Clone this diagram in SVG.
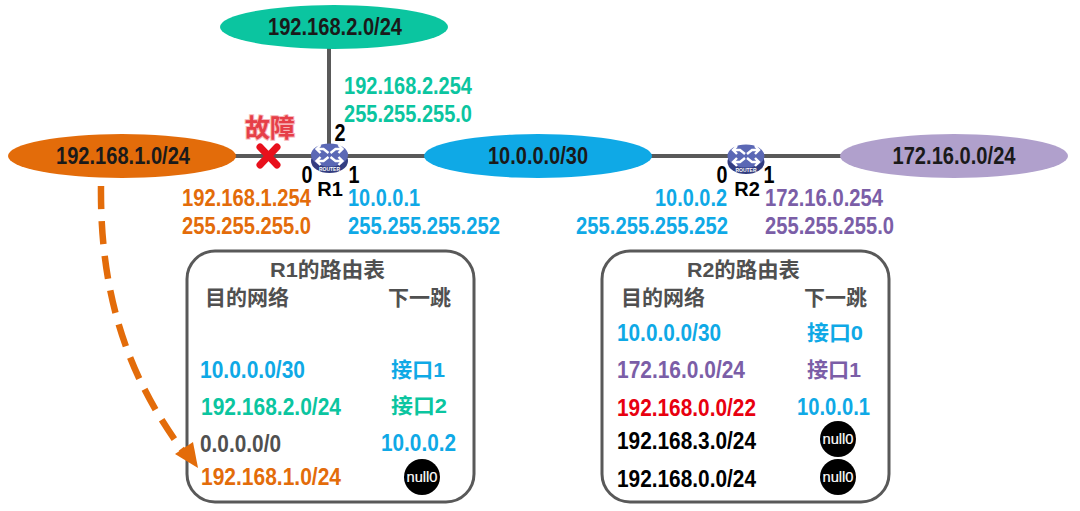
<svg xmlns="http://www.w3.org/2000/svg" width="1080" height="511" viewBox="0 0 1080 511">
<style>
text{font-family:"Liberation Sans","Noto Sans CJK SC",sans-serif;font-size:23px;font-weight:bold}
.o{fill:#e36c0a}.g{fill:#0bc5a0}.b{fill:#0fa9e6}.p{fill:#7b5ea7}
.d{fill:#505050}.k{fill:#000}.r{fill:#e8000f}
.net{fill:#1a1a1a}
.m{text-anchor:middle}.box{fill:#fff;stroke:#595959;stroke-width:3}
.cjk{font-size:21px}
.port{font-size:24px;fill:#000;text-anchor:middle}
.tag{font-size:20px;fill:#000;text-anchor:middle}
.n0{fill:#fff;font-size:15px;font-weight:normal;text-anchor:middle;stroke:#fff;stroke-width:.2px}
</style>
<defs>
<g id="router">
<ellipse cx="0" cy="4" rx="18.5" ry="12" fill="#333d80"/>
<ellipse cx="0" cy="-2" rx="18.5" ry="11.5" fill="#5b68b5"/>
<path d="M-13-8h7l5 4M-9-12l-4 4 4 4M13-8H6L1-4M9-12l4 4-4 4M-13 4h7l5-4M-9 0l-4 4 4 4M13 4H6L1 0M9 0l4 4-4 4" fill="none" stroke="#fff" stroke-width="2.4"/>
<text x="0" y="14" text-anchor="middle" style="font-size:5px;fill:#fff">ROUTER</text>
</g>
</defs>
<rect width="1080" height="511" fill="#fff"/>
<g id="links" fill="none">
<path d="M329 40V156M230 156H430M650 156H850" stroke="#595959" stroke-width="4"/>
</g>
<g id="net-192-168-2"><ellipse cx="334" cy="27" rx="114" ry="22" fill="#0bc5a0"/><text class="net m" x="335" y="35" textLength="134" lengthAdjust="spacingAndGlyphs">192.168.2.0/24</text></g>
<g id="net-192-168-1"><ellipse cx="122" cy="156" rx="114" ry="22" fill="#e36c0a"/><text class="net m" x="123" y="164" textLength="134" lengthAdjust="spacingAndGlyphs">192.168.1.0/24</text></g>
<g id="net-10-0-0"><ellipse cx="538" cy="156" rx="114" ry="22" fill="#0fa9e6"/><text class="net m" x="538" y="164" textLength="100" lengthAdjust="spacingAndGlyphs">10.0.0.0/30</text></g>
<g id="net-172-16"><ellipse cx="954" cy="156" rx="114" ry="22" fill="#b0a0cc"/><text class="net m" x="954" y="164" textLength="123" lengthAdjust="spacingAndGlyphs">172.16.0.0/24</text></g>
<g id="fault">
<path d="M260 147L277 165M277 147L260 165" stroke="#e8101c" stroke-width="7" stroke-linecap="round"/>
<text x="270" y="137" text-anchor="middle" style="font-size:25px;fill:#e63f48;stroke:#f7b5b8;stroke-width:2px;paint-order:stroke">故障</text>
</g>
<g id="R1">
<use href="#router" x="329.5" y="157"/>
<text class="port" x="307" y="183" textLength="11" lengthAdjust="spacingAndGlyphs">0</text><text class="port" x="354" y="183" textLength="11" lengthAdjust="spacingAndGlyphs">1</text><text class="port" x="340" y="141" textLength="11" lengthAdjust="spacingAndGlyphs">2</text>
<text class="tag" x="330" y="196">R1</text>
</g>
<g id="R2">
<use href="#router" x="746" y="158"/>
<text class="port" x="722" y="183" textLength="11" lengthAdjust="spacingAndGlyphs">0</text><text class="port" x="769" y="183" textLength="11" lengthAdjust="spacingAndGlyphs">1</text>
<text class="tag" x="747" y="196">R2</text>
</g>
<g id="addresses">
<text class="g" x="344" y="94" textLength="128" lengthAdjust="spacingAndGlyphs">192.168.2.254</text><text class="g" x="344" y="122" textLength="128" lengthAdjust="spacingAndGlyphs">255.255.255.0</text>
<text class="o" x="182" y="206" textLength="129" lengthAdjust="spacingAndGlyphs">192.168.1.254</text><text class="o" x="182" y="234" textLength="129" lengthAdjust="spacingAndGlyphs">255.255.255.0</text>
<text class="b" x="348" y="206" textLength="72" lengthAdjust="spacingAndGlyphs">10.0.0.1</text><text class="b" x="348" y="234" textLength="152" lengthAdjust="spacingAndGlyphs">255.255.255.252</text>
<text class="b" x="655" y="206" textLength="72" lengthAdjust="spacingAndGlyphs">10.0.0.2</text><text class="b" x="576" y="234" textLength="152" lengthAdjust="spacingAndGlyphs">255.255.255.252</text>
<text class="p" x="765" y="206" textLength="118" lengthAdjust="spacingAndGlyphs">172.16.0.254</text><text class="p" x="765" y="234" textLength="129" lengthAdjust="spacingAndGlyphs">255.255.255.0</text>
</g>
<g id="table-R1">
<rect class="box" x="187" y="251" width="287" height="251" rx="28"/>
<text class="d cjk" x="270" y="277" textLength="115" lengthAdjust="spacingAndGlyphs">R1的路由表</text>
<text class="d cjk" x="205" y="305">目的网络</text><text class="d cjk" x="388" y="305">下一跳</text>
<text class="b" x="200" y="378" textLength="105" lengthAdjust="spacingAndGlyphs">10.0.0.0/30</text><text class="b cjk" x="391" y="377" textLength="54" lengthAdjust="spacingAndGlyphs">接口1</text>
<text class="g" x="201" y="415" textLength="140" lengthAdjust="spacingAndGlyphs">192.168.2.0/24</text><text class="g cjk" x="391" y="413" textLength="56" lengthAdjust="spacingAndGlyphs">接口2</text>
<text class="d" x="200" y="452" textLength="81" lengthAdjust="spacingAndGlyphs">0.0.0.0/0</text><text class="b" x="381" y="451" textLength="75" lengthAdjust="spacingAndGlyphs">10.0.0.2</text>
<text class="o" x="201" y="485" textLength="140" lengthAdjust="spacingAndGlyphs">192.168.1.0/24</text>
<circle cx="422" cy="477" r="18" fill="#000"/><text class="n0" x="422" y="482" textLength="31" lengthAdjust="spacingAndGlyphs">null0</text>
</g>
<g id="table-R2">
<rect class="box" x="602" y="251" width="287" height="251" rx="28"/>
<text class="d cjk" x="687" y="277" textLength="113" lengthAdjust="spacingAndGlyphs">R2的路由表</text>
<text class="d cjk" x="621" y="305">目的网络</text><text class="d cjk" x="804" y="305">下一跳</text>
<text class="b" x="617" y="341" textLength="104" lengthAdjust="spacingAndGlyphs">10.0.0.0/30</text><text class="b cjk" x="807" y="340" textLength="56" lengthAdjust="spacingAndGlyphs">接口0</text>
<text class="p" x="617" y="378" textLength="128" lengthAdjust="spacingAndGlyphs">172.16.0.0/24</text><text class="p cjk" x="807" y="377" textLength="54" lengthAdjust="spacingAndGlyphs">接口1</text>
<text class="r" x="617" y="416" textLength="139" lengthAdjust="spacingAndGlyphs">192.168.0.0/22</text><text class="b" x="797" y="415" textLength="73" lengthAdjust="spacingAndGlyphs">10.0.0.1</text>
<text class="k" x="617" y="449" textLength="139" lengthAdjust="spacingAndGlyphs">192.168.3.0/24</text>
<circle cx="838" cy="439" r="18" fill="#000"/><text class="n0" x="838" y="444" textLength="31" lengthAdjust="spacingAndGlyphs">null0</text>
<text class="k" x="617" y="487" textLength="139" lengthAdjust="spacingAndGlyphs">192.168.0.0/24</text>
<circle cx="838" cy="477" r="18" fill="#000"/><text class="n0" x="838" y="482" textLength="31" lengthAdjust="spacingAndGlyphs">null0</text>
</g>
<g id="connectors" fill="none">
<path d="M101 186C100 290 125 375 186 455" stroke="#e36c0a" stroke-width="6.5" stroke-dasharray="23 12"/>
<path d="M193 442L175 454L198 468Z" fill="#e36c0a"/>
</g>
</svg>
